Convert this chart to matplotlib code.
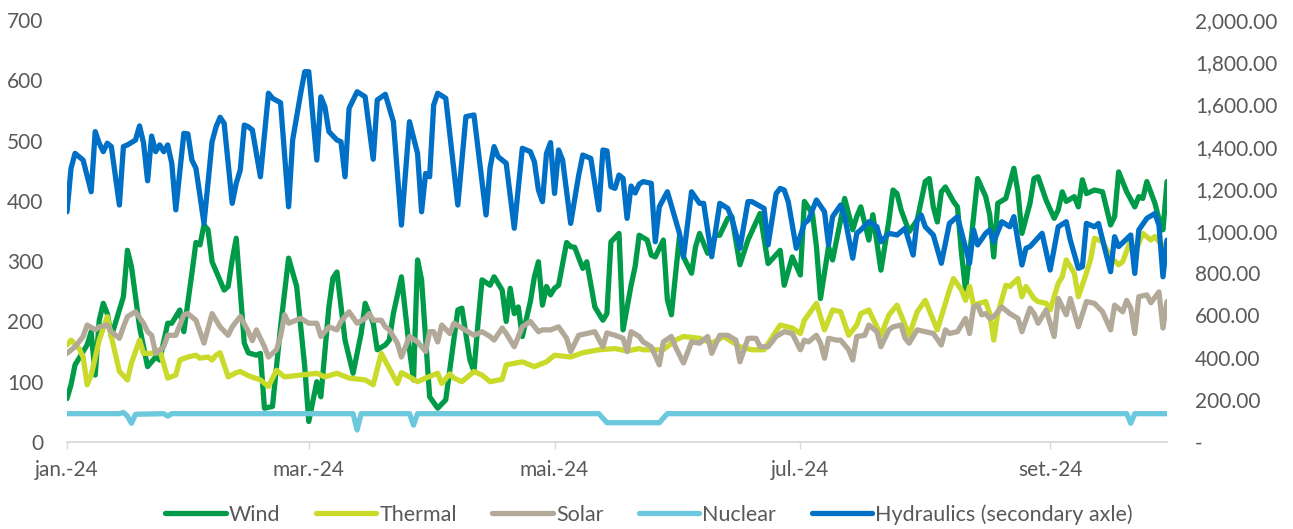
import numpy as np
import matplotlib
matplotlib.use("Agg")
import matplotlib.pyplot as plt
from matplotlib.ticker import FuncFormatter, FixedLocator

plt.rcParams['font.family'] = ['Lato', 'DejaVu Sans']

# ---------------- data (day offset from 2024-01-01 : value) ----------------
hyd_days = [0, 1, 2, 4, 6, 7, 8, 9, 10, 11, 13, 14, 15, 17, 18, 19, 20, 21, 22, 23, 24, 25, 26, 27, 29, 30,
            31, 32, 34, 36, 37, 38, 39, 41, 42, 43, 44, 45, 46, 48, 50, 51, 53, 55, 56, 58, 59, 60, 62, 63,
            64, 65, 67, 68, 69, 70, 72, 74, 76, 77, 79, 81, 83, 85, 87, 88, 89, 90, 91, 92, 94, 97, 99, 101,
            104, 105, 106, 107, 109, 111, 113, 115, 116, 117, 118, 119, 120, 121, 122, 123, 125, 127, 128,
            130, 132, 133, 134, 135, 136, 137, 138, 139, 140, 141, 142, 143, 145, 146, 147, 149, 152, 153,
            155, 157, 158, 160, 162, 164, 165, 167, 169, 170, 173, 174, 176, 177, 178, 179, 181, 183, 184,
            186, 188, 189, 190, 192, 193, 195, 196, 197, 199, 201, 202, 204, 206, 208, 210, 211, 212, 213,
            215, 217, 219, 221, 224, 225, 226, 228, 229, 230, 232, 234, 235, 237, 238, 239, 242, 244, 246,
            248, 249, 251, 252, 253, 255, 256, 259, 260, 261, 264, 265, 266, 268, 270, 271, 272, 273]
hyd_vals = [1091, 1297, 1368, 1336, 1186, 1471, 1416, 1376, 1416, 1400, 1123, 1400, 1408, 1431, 1498, 1417,
            1238, 1450, 1376, 1408, 1376, 1408, 1321, 1100, 1463, 1460, 1336, 1297, 1036, 1423, 1494, 1539,
            1510, 1131, 1226, 1289, 1502, 1494, 1479, 1257, 1653, 1629, 1608, 1115, 1431, 1653, 1755, 1755,
            1336, 1636, 1589, 1471, 1431, 1423, 1257, 1581, 1660, 1636, 1340, 1621, 1648, 1518, 1028, 1518,
            1368, 1091, 1273, 1257, 1597, 1653, 1629, 1123, 1542, 1550, 1076, 1300, 1400, 1352, 1321, 1013,
            1392, 1376, 1328, 1194, 1139, 1368, 1419, 1178, 1384, 1336, 1036, 1265, 1360, 1344, 1100, 1384,
            1380, 1210, 1202, 1265, 1250, 1060, 1213, 1180, 1222, 1234, 1226, 949, 1115, 1186, 989, 878,
            1186, 1131, 1131, 878, 1131, 1107, 1060, 918, 1139, 1139, 1107, 934, 1178, 1202, 1194, 1139,
            918, 1036, 1052, 1147, 1091, 934, 1068, 1123, 1068, 871, 989, 1005, 1044, 1020, 949, 989, 981,
            1013, 886, 1052, 1076, 1020, 981, 847, 1036, 1068, 847, 1005, 934, 989, 1005, 949, 1044, 1020,
            1068, 839, 918, 926, 989, 815, 1020, 1044, 957, 823, 831, 1036, 1020, 1036, 807, 973, 926, 981,
            799, 1005, 1060, 1083, 1028, 783, 957]

wind_days = [0, 1, 2, 3, 5, 6, 7, 8, 9, 10, 11, 12, 14, 15, 16, 18, 20, 22, 23, 25, 26, 28, 29, 31, 32, 33,
             34, 35, 36, 39, 40, 41, 42, 44, 45, 47, 48, 49, 51, 53, 55, 57, 59, 60, 62, 63, 65, 66, 67, 69,
             71, 73, 74, 76, 77, 79, 80, 81, 83, 85, 86, 87, 88, 90, 92, 94, 96, 97, 98, 100, 101, 102, 103,
             105, 106, 108, 109, 110, 111, 112, 113, 115, 116, 117, 118, 119, 120, 121, 122, 124, 125, 126,
             128, 129, 131, 133, 134, 135, 137, 138, 140, 141, 142, 144, 145, 146, 148, 149, 150, 152, 153,
             155, 156, 157, 159, 161, 162, 164, 165, 167, 169, 172, 174, 177, 178, 180, 182, 183, 185, 186,
             187, 189, 190, 192, 193, 195, 196, 197, 199, 200, 202, 204, 205, 206, 207, 209, 211, 213, 214,
             215, 216, 217, 218, 220, 221, 222, 223, 224, 226, 228, 229, 230, 231, 233, 235, 236, 237, 239,
             240, 241, 243, 245, 246, 247, 248, 250, 251, 252, 253, 255, 257, 259, 260, 261, 263, 265, 266,
             267, 268, 270, 271, 272, 273]
wind_vals = [72, 95, 128, 139, 161, 183, 111, 202, 230, 213, 175, 197, 241, 318, 291, 191, 125, 141, 136, 197,
             197, 219, 183, 280, 331, 327, 360, 352, 299, 252, 258, 302, 338, 164, 148, 144, 147, 56, 59, 191,
             305, 258, 125, 34, 100, 75, 224, 272, 282, 169, 114, 180, 230, 197, 153, 161, 169, 213, 274, 153,
             103, 302, 269, 75, 56, 70, 169, 219, 222, 136, 117, 197, 269, 260, 274, 252, 200, 255, 213, 224,
             175, 233, 274, 299, 227, 258, 244, 255, 260, 331, 324, 323, 288, 299, 224, 202, 213, 332, 346,
             186, 260, 291, 343, 335, 310, 307, 335, 236, 211, 341, 307, 280, 324, 346, 313, 343, 343, 371,
             374, 294, 335, 379, 296, 318, 260, 307, 277, 399, 379, 324, 238, 324, 302, 368, 404, 352, 374,
             390, 335, 377, 285, 368, 418, 412, 385, 349, 368, 432, 437, 390, 365, 415, 423, 399, 390, 313,
             252, 310, 437, 407, 377, 307, 396, 404, 454, 415, 346, 396, 437, 440, 401, 371, 385, 415, 399,
             407, 390, 435, 412, 418, 415, 360, 374, 448, 415, 390, 407, 404, 432, 396, 370, 352, 432]

thermal_days = [0, 1, 3, 4, 5, 6, 8, 10, 11, 13, 15, 16, 18, 19, 21, 23, 25, 27, 28, 30, 32, 33, 35, 36, 37,
                38, 40, 42, 43, 45, 48, 50, 52, 54, 58, 62, 64, 67, 70, 74, 76, 78, 80, 82, 83, 85, 87, 89,
                92, 93, 95, 96, 98, 101, 103, 105, 108, 109, 113, 116, 119, 121, 125, 128, 132, 136, 139,
                142, 143, 148, 151, 153, 157, 160, 163, 167, 170, 173, 177, 180, 182, 183, 186, 188, 190,
                192, 194, 196, 197, 199, 202, 204, 206, 209, 211, 213, 216, 219, 220, 222, 223, 224, 225,
                228, 229, 230, 231, 233, 234, 236, 237, 238, 240, 241, 243, 244, 246, 247, 248, 250, 251,
                253, 254, 255, 257, 259, 261, 262, 264, 265, 267, 269, 270, 272, 273]
thermal_vals = [161, 169, 155, 141, 95, 111, 169, 208, 175, 117, 103, 131, 169, 147, 147, 153, 106, 111, 136,
                141, 144, 139, 141, 136, 144, 148, 108, 115, 117, 110, 103, 92, 119, 108, 111, 114, 108, 114,
                106, 103, 95, 147, 122, 97, 115, 108, 100, 106, 114, 97, 113, 106, 100, 117, 111, 100, 104,
                128, 133, 125, 133, 144, 141, 148, 153, 155, 151, 155, 153, 153, 169, 175, 172, 164, 175, 158,
                153, 153, 194, 189, 180, 202, 230, 186, 219, 216, 177, 194, 213, 219, 177, 211, 227, 177, 216,
                235, 186, 252, 271, 252, 235, 258, 227, 233, 213, 169, 213, 260, 258, 271, 241, 258, 238, 233,
                230, 219, 263, 274, 302, 280, 241, 280, 302, 338, 332, 307, 294, 299, 335, 313, 346, 335, 341,
                324, 332]

solar_days = [0, 2, 4, 5, 7, 8, 10, 11, 13, 14, 15, 17, 19, 20, 21, 22, 24, 25, 27, 29, 30, 32, 34, 36, 38,
              40, 41, 43, 45, 46, 47, 49, 50, 52, 53, 54, 55, 58, 60, 62, 63, 65, 67, 68, 70, 72, 74, 75, 76,
              78, 79, 80, 82, 83, 85, 87, 89, 90, 91, 92, 93, 95, 96, 98, 101, 103, 105, 106, 108, 109, 111,
              113, 115, 117, 118, 120, 122, 124, 125, 127, 129, 131, 133, 134, 136, 138, 139, 140, 142, 143,
              145, 147, 148, 150, 151, 153, 155, 157, 159, 160, 162, 164, 166, 167, 169, 171, 172, 174, 176,
              178, 180, 182, 183, 184, 186, 187, 188, 189, 191, 192, 194, 195, 196, 198, 199, 201, 202, 204,
              205, 207, 208, 209, 211, 213, 215, 217, 218, 219, 221, 223, 224, 225, 226, 227, 228, 229, 230,
              232, 234, 236, 237, 239, 240, 241, 243, 245, 246, 248, 249, 251, 253, 255, 257, 259, 260, 262,
              263, 264, 265, 266, 268, 269, 271, 272, 273]
solar_vals = [147, 158, 175, 194, 186, 191, 194, 183, 172, 191, 208, 216, 197, 183, 177, 147, 158, 177, 177,
              211, 213, 202, 164, 213, 191, 177, 191, 208, 183, 168, 186, 158, 141, 153, 175, 211, 197, 205,
              197, 197, 175, 191, 186, 200, 216, 197, 205, 213, 202, 202, 191, 186, 164, 141, 175, 166, 150,
              183, 183, 166, 194, 180, 197, 189, 177, 183, 175, 169, 189, 180, 158, 191, 200, 183, 186, 186,
              191, 172, 150, 177, 180, 183, 158, 181, 177, 172, 150, 183, 175, 166, 158, 128, 166, 175, 158,
              131, 166, 164, 175, 147, 177, 177, 169, 133, 172, 172, 158, 158, 175, 183, 180, 153, 169, 166,
              177, 164, 139, 172, 169, 169, 153, 136, 175, 177, 194, 183, 158, 186, 191, 194, 172, 164, 186,
              183, 180, 161, 186, 180, 183, 205, 180, 224, 227, 211, 213, 205, 208, 224, 213, 205, 183, 222,
              213, 197, 219, 175, 238, 211, 238, 191, 233, 230, 216, 186, 227, 216, 235, 222, 180, 241, 244,
              231, 249, 189, 233]

nuclear_days = [0, 13, 14, 15, 16, 17, 24, 25, 26, 71, 72, 73, 85, 86, 87, 132, 134, 147, 149, 263, 264, 265,
                273]
nuclear_vals = [47, 47, 49, 43, 31, 46, 47, 43, 47, 47, 20, 47, 47, 28, 47, 47, 32, 32, 47, 47, 31, 47, 47]

tick_dates = ['2024-01-01', '2024-03-01', '2024-05-01', '2024-07-01', '2024-09-01']
tick_labels = ['jan.-24', 'mar.-24', 'mai.-24', 'jul.-24', 'set.-24']
series_names = ['Wind', 'Thermal', 'Solar', 'Nuclear', 'Hydraulics (secondary axle)']

# ---------------- styling ----------------
C_WIND = '#009B48'
C_THERM = '#C9DA2A'
C_SOLAR = '#B2A999'
C_NUC = '#6CC9DD'
C_HYD = '#0070C6'
TXT = '#595959'
AXC = '#D9D9D9'
LW = 3.8
FS = 15

start = np.datetime64('2024-01-01')


def to_dates(days):
    return start + np.array(days).astype('timedelta64[D]')


W, H = 1293, 529
fig = plt.figure(figsize=(W / 100, H / 100), dpi=100)
ax = fig.add_axes([67 / W, 1 - 442 / H, (1167 - 67) / W, 422 / H])
ax2 = ax.twinx()

kw = dict(linewidth=LW, solid_joinstyle='round', solid_capstyle='round')
l1, = ax.plot(to_dates(wind_days), wind_vals, color=C_WIND, **kw)
l2, = ax.plot(to_dates(thermal_days), thermal_vals, color=C_THERM, **kw)
l3, = ax.plot(to_dates(solar_days), solar_vals, color=C_SOLAR, **kw)
l4, = ax.plot(to_dates(nuclear_days), nuclear_vals, color=C_NUC, **kw)
l5, = ax2.plot(to_dates(hyd_days), hyd_vals, color=C_HYD, **kw)

ax.set_xlim(start, np.datetime64('2024-09-30'))
ax.set_ylim(0, 700)
ax2.set_ylim(0, 2000)

ax.yaxis.set_major_locator(FixedLocator(np.arange(0, 701, 100)))
ax2.yaxis.set_major_locator(FixedLocator(np.arange(0, 2001, 200)))
ax2.yaxis.set_major_formatter(FuncFormatter(lambda v, p: '-' if v == 0 else f'{v:,.2f}'))

xt = np.array(tick_dates, dtype='datetime64[D]')
ax.set_xticks(xt)
ax.set_xticklabels(tick_labels)

for a in (ax, ax2):
    for s in ('left', 'right', 'top', 'bottom'):
        a.spines[s].set_visible(False)
ax.spines['bottom'].set_visible(True)
ax.spines['bottom'].set_color(AXC)
ax.spines['bottom'].set_linewidth(1.3)

ax.tick_params(axis='x', direction='out', length=5, width=1.0, color=AXC, pad=8,
               labelsize=FS, labelcolor=TXT)
ax.tick_params(axis='y', length=0, pad=17, labelsize=FS, labelcolor=TXT)
ax2.tick_params(axis='y', length=0, pad=20, labelsize=FS, labelcolor=TXT)
for t in ax2.get_yticklabels():
    t.set_horizontalalignment('left')

ax.set_zorder(1)
ax2.set_zorder(2)
ax.patch.set_visible(False)
ax2.patch.set_visible(False)

fig.legend([l1, l2, l3, l4, l5], series_names, loc='center', bbox_to_anchor=(0.502, 0.027),
           ncol=5, frameon=False, fontsize=15.5, labelcolor=TXT, handlelength=2.8,
           handletextpad=0.15, columnspacing=1.65)

fig.savefig('out.png', dpi=100)
